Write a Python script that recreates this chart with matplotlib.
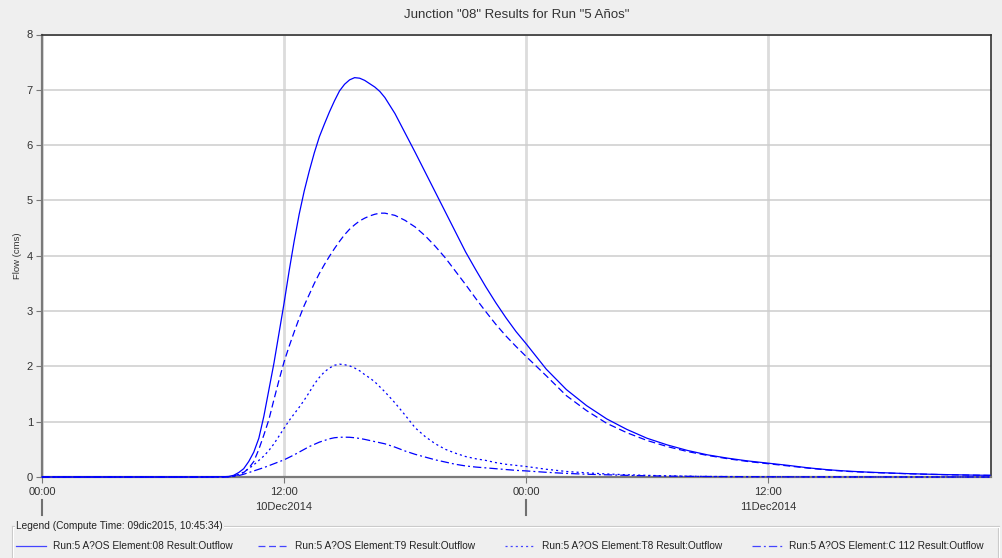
import matplotlib
matplotlib.use("Agg")
import matplotlib.pyplot as plt
from matplotlib.lines import Line2D
import matplotlib.transforms as mtransforms

plt.rcParams['font.family'] = ['Liberation Sans', 'DejaVu Sans']
plt.rcParams['lines.scale_dashes'] = False

# Hours after 10Dec2014 00:00 (15-min steps through the rising limb, then 30 min, then hourly)
hours = [0, 8,
         9, 9.25, 9.5, 9.75, 10, 10.25, 10.5, 10.75, 11, 11.25, 11.5, 11.75,
         12, 12.25, 12.5, 12.75, 13, 13.25, 13.5, 13.75, 14, 14.25, 14.5, 14.75,
         15, 15.25, 15.5, 15.75, 16, 16.25, 16.5, 16.75, 17,
         17.5, 18, 18.5, 19, 19.5, 20, 20.5, 21, 21.5, 22, 22.5, 23, 23.5, 24,
         25, 26, 27, 28, 29, 30, 31, 32, 33, 34, 35, 36, 37, 38, 39, 40, 41, 42,
         43, 44, 45, 46, 47]

# Outflow (cms) for each element
flow_08 = [0, 0,
           0.005, 0.01, 0.03, 0.08, 0.15, 0.28, 0.45, 0.7, 1.1, 1.58, 2.06, 2.6,
           3.14, 3.72, 4.26, 4.75, 5.17, 5.53, 5.86, 6.15, 6.38, 6.6, 6.8, 6.98,
           7.1, 7.18, 7.22, 7.21, 7.17, 7.11, 7.05, 6.97, 6.86,
           6.57, 6.22, 5.87, 5.51, 5.15, 4.79, 4.43, 4.07, 3.75, 3.44, 3.15, 2.88, 2.63, 2.41,
           1.95, 1.58, 1.29, 1.05, 0.86, 0.7, 0.58, 0.48, 0.40, 0.34, 0.29, 0.25, 0.21, 0.165,
           0.13, 0.105, 0.087, 0.073, 0.06, 0.05, 0.042, 0.035, 0.03]
flow_t9 = [0, 0,
           0.002, 0.006, 0.02, 0.045, 0.08, 0.16, 0.28, 0.5, 0.76, 1.04, 1.4, 1.75,
           2.08, 2.36, 2.62, 2.87, 3.1, 3.3, 3.5, 3.68, 3.84, 3.99, 4.13, 4.26,
           4.38, 4.48, 4.56, 4.63, 4.68, 4.72, 4.75, 4.77, 4.77,
           4.73, 4.64, 4.52, 4.36, 4.17, 3.96, 3.72, 3.48, 3.23, 2.99, 2.76, 2.55, 2.36, 2.18,
           1.83, 1.47, 1.2, 0.97, 0.8, 0.66, 0.55, 0.46, 0.39, 0.33, 0.28, 0.24, 0.2, 0.16,
           0.125, 0.1, 0.083, 0.07, 0.058, 0.048, 0.04, 0.034, 0.029]
flow_t8 = [0, 0,
           0.002, 0.006, 0.015, 0.04, 0.09, 0.15, 0.22, 0.3, 0.38, 0.48, 0.6, 0.74,
           0.88, 1.02, 1.14, 1.26, 1.39, 1.53, 1.68, 1.8, 1.9, 1.97, 2.02, 2.04,
           2.03, 2.01, 1.97, 1.92, 1.85, 1.79, 1.72, 1.63, 1.54,
           1.34, 1.12, 0.89, 0.73, 0.6, 0.5, 0.43, 0.37, 0.33, 0.3, 0.26, 0.23, 0.21, 0.19,
           0.14, 0.1, 0.075, 0.055, 0.04, 0.03, 0.02, 0.015, 0.01, 0.008, 0.006, 0.004, 0.003, 0.002,
           0.002, 0.001, 0.001, 0.001, 0, 0, 0, 0, 0]
flow_c112 = [0, 0,
             0.001, 0.004, 0.01, 0.025, 0.05, 0.08, 0.11, 0.14, 0.17, 0.205, 0.24, 0.275,
             0.31, 0.355, 0.4, 0.45, 0.5, 0.55, 0.59, 0.63, 0.66, 0.69, 0.71, 0.718,
             0.72, 0.718, 0.71, 0.697, 0.68, 0.66, 0.64, 0.62, 0.6,
             0.54, 0.47, 0.41, 0.36, 0.31, 0.27, 0.23, 0.2, 0.18, 0.165, 0.15, 0.135, 0.12, 0.11,
             0.085, 0.065, 0.05, 0.04, 0.03, 0.022, 0.016, 0.012, 0.009, 0.007, 0.005, 0.004, 0.003, 0.002,
             0.002, 0.001, 0.001, 0.001, 0, 0, 0, 0, 0]

series_labels = ["Run:5 A?OS Element:08 Result:Outflow",
                 "Run:5 A?OS Element:T9 Result:Outflow",
                 "Run:5 A?OS Element:T8 Result:Outflow",
                 "Run:5 A?OS Element:C 112 Result:Outflow"]
tick_hours = [0, 12, 24, 36]
tick_labels = ["00:00", "12:00", "00:00", "12:00"]
day_hours = [0, 24]
date_labels = ["10Dec2014", "11Dec2014"]
date_hours = [12, 36]

line_styles = ['-', (0, (5, 2.6)), (0, (1.5, 2.2)), (0, (6, 2.2, 1.4, 2.2))]
BLUE = '#0000ff'

W, H = 1002, 558
fig = plt.figure(figsize=(W / 100, H / 100), dpi=100, facecolor='#efefef')


def fx(px):
    return px / W


def fy(py):
    return 1 - py / H


ax = fig.add_axes([fx(42), fy(477), fx(991) - fx(42), fy(34.5) - fy(477)])
ax.set_facecolor('white')

for vals, ls in zip([flow_08, flow_t9, flow_t8, flow_c112], line_styles):
    ax.plot(hours, vals, color=BLUE, lw=0.9, ls=ls, clip_on=False, zorder=4)

ax.set_xlim(0, 47.05)
ax.set_ylim(0, 8)
ax.set_yticks(range(0, 9))
ax.set_xticks(tick_hours)
ax.set_xticklabels(tick_labels)

ax.yaxis.grid(True, color='#cdcdcd', lw=1.1)
ax.xaxis.grid(True, color='#dcdcdc', lw=2)
ax.set_axisbelow(True)

for side in ['left', 'bottom']:
    ax.spines[side].set_color('#7a7a7a')
    ax.spines[side].set_linewidth(1.6)
for side in ['top', 'right']:
    ax.spines[side].set_color('#333333')
    ax.spines[side].set_linewidth(1.2)

ax.tick_params(axis='y', direction='out', length=4.5, width=0.8, color='#777777',
               labelsize=8, labelcolor='#333333', pad=2)
ax.tick_params(axis='x', direction='out', length=4, width=0.8, color='#777777',
               labelsize=8, labelcolor='#333333', pad=3)

# Second row of the time axis: day boundaries and dates
blend = mtransforms.blended_transform_factory(ax.transData, fig.transFigure)
for h in day_hours:
    fig.add_artist(Line2D([h, h], [fy(500), fy(515)], transform=blend,
                          color='#707070', lw=1.5))
for h, lab in zip(date_hours, date_labels):
    fig.text(h, fy(507), lab, transform=blend, ha='center', va='center',
             size=8, color='#333333')

fig.text(fx(516.5), fy(15), 'Junction "08" Results for Run "5 Años"',
         ha='center', va='center', size=9.5, color='#333333')
fig.text(fx(17), fy(256), 'Flow (cms)', rotation=90, ha='center', va='center',
         size=6.8, color='#333333')

# Legend panel with a titled etched border
bx0, bx1, by0, by1 = 12, 999, 525.5, 557.5
for dx, col in [(0, '#c8c8c8'), (1, '#ffffff')]:
    fig.add_artist(Line2D([fx(bx0 + dx), fx(bx1)], [fy(by0 + dx), fy(by0 + dx)],
                          transform=fig.transFigure, color=col, lw=0.8))
    fig.add_artist(Line2D([fx(bx0 + dx), fx(bx0 + dx)], [fy(by0 + dx), fy(by1)],
                          transform=fig.transFigure, color=col, lw=0.8))
    fig.add_artist(Line2D([fx(bx1 - 1 + dx), fx(bx1 - 1 + dx)], [fy(by0 + dx), fy(by1)],
                          transform=fig.transFigure, color=col, lw=0.8))
fig.text(fx(16), fy(526), 'Legend (Compute Time: 09dic2015, 10:45:34)',
         ha='left', va='center', size=7.3, color='#222222',
         bbox=dict(facecolor='#efefef', edgecolor='none', pad=1.0))

legend_x = [16, 258, 505, 752]
for x0, ls, lab in zip(legend_x, line_styles, series_labels):
    fig.add_artist(Line2D([fx(x0), fx(x0 + 30)], [fy(546), fy(546)],
                          transform=fig.transFigure, color='#4444ff', lw=0.9, ls=ls))
    fig.text(fx(x0 + 37), fy(546), lab, ha='left', va='center', size=7.3, color='#222222')

fig.savefig('out.png', dpi=100, facecolor=fig.get_facecolor())
